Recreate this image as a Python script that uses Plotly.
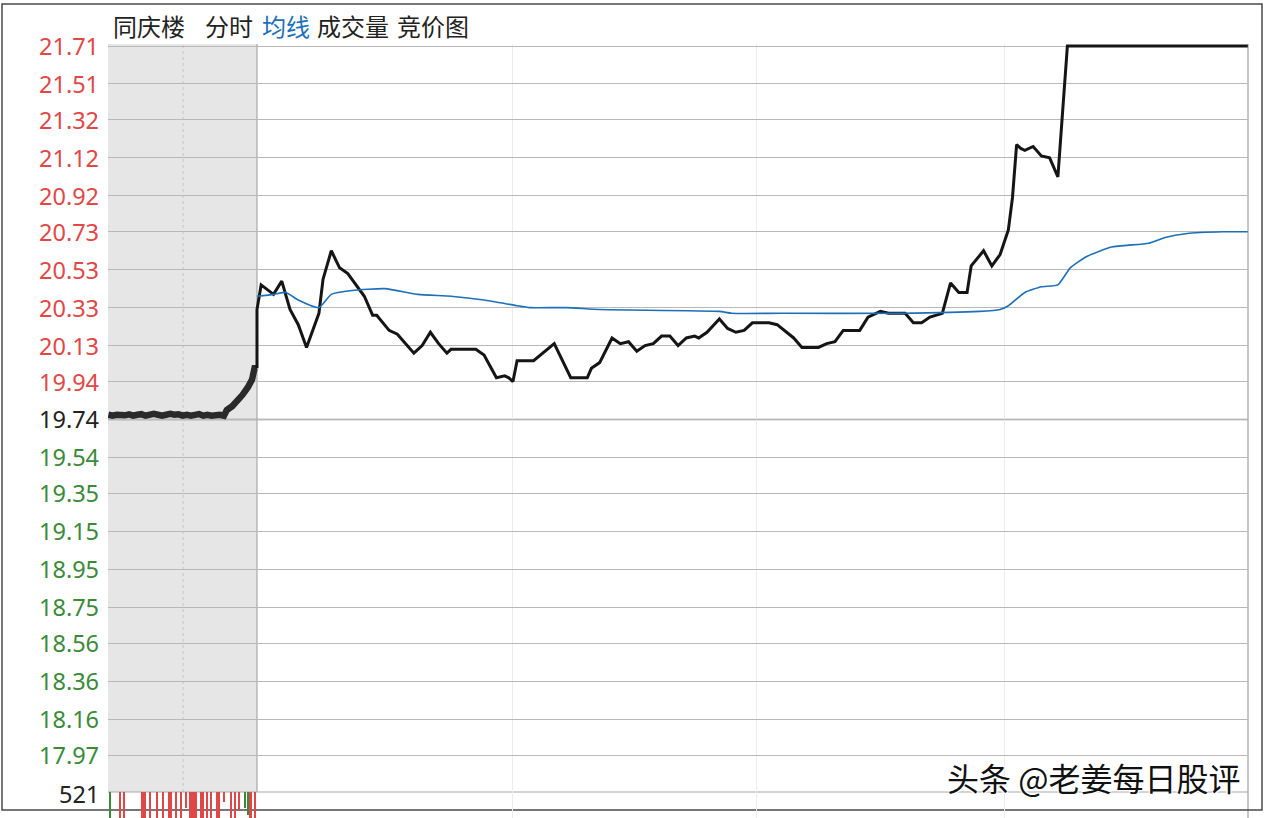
import plotly.graph_objects as go

# ---------------- data ----------------
stock_name = "同庆楼"
menu_items = ["分时", "均线", "成交量", "竞价图"]
watermark = "头条 @老姜每日股评"
prev_close = 19.74

price_ticks = [21.71, 21.51, 21.32, 21.12, 20.92, 20.73, 20.53, 20.33, 20.13, 19.94,
               19.74, 19.54, 19.35, 19.15, 18.95, 18.75, 18.56, 18.36, 18.16, 17.97]
vol_top_label = "521"

# pre-market auction (minutes relative to 9:30, in trading-minute widths)
pre_minutes = [-36, -35, -34, -33, -32, -31, -30, -29, -28, -27, -26, -25, -24, -23, -22,
               -21, -20, -19, -18, -17, -16, -15, -14, -13, -12, -11, -10, -9, -8,
               -7.3, -6, -5, -3.5, -2.2, -1.2, -0.6, 0]
pre_prices = [19.765, 19.76, 19.765, 19.76, 19.762, 19.767, 19.76, 19.765, 19.768, 19.76,
              19.765, 19.77, 19.765, 19.76, 19.765, 19.77, 19.765, 19.767, 19.76, 19.765,
              19.76, 19.765, 19.768, 19.76, 19.765, 19.76, 19.765, 19.765, 19.76,
              19.79, 19.81, 19.83, 19.87, 19.91, 19.95, 20.01, 20.01]

# intraday price (minutes after 9:30, lunch break removed)
trade_minutes = [0, 1, 4, 6, 8, 10, 12, 15, 16, 18, 20, 22, 26, 28, 29, 32, 34, 38, 40, 42,
                 44, 46, 47, 53, 55, 58, 60, 61, 62, 63, 67, 72, 76, 80, 81, 83, 86, 88, 90, 92,
                 94, 96, 98, 100, 102, 104, 106, 107, 109, 112, 114, 116, 118, 120, 124, 126,
                 130, 132, 136, 138, 140, 142, 146, 148, 151, 153, 157, 159, 161, 163, 166,
                 168, 170, 172, 173, 176, 178, 180, 182, 183, 184, 185, 186, 188, 190, 192,
                 194, 194.6, 195.5, 196.3, 240]
trade_prices = [20.32, 20.45, 20.40, 20.47, 20.32, 20.24, 20.12, 20.30, 20.48, 20.63,
                20.54, 20.51, 20.39, 20.29, 20.29, 20.21, 20.19, 20.09, 20.13, 20.20,
                20.14, 20.09, 20.11, 20.11, 20.08, 19.96, 19.97, 19.96, 19.94, 20.05,
                20.05, 20.14, 19.96, 19.96, 20.01, 20.04, 20.17, 20.14, 20.15, 20.10,
                20.13, 20.14, 20.18, 20.18, 20.13, 20.17, 20.18, 20.17, 20.20, 20.27,
                20.22, 20.20, 20.21, 20.25, 20.25, 20.24, 20.17, 20.12, 20.12, 20.14,
                20.15, 20.21, 20.21, 20.28, 20.31, 20.30, 20.30, 20.25, 20.25, 20.28,
                20.30, 20.46, 20.41, 20.41, 20.55, 20.63, 20.55, 20.61, 20.74, 20.91,
                21.19, 21.17, 21.16, 21.18, 21.13, 21.12, 21.02, 21.20, 21.49, 21.71,
                21.71]

# average price line
avg_minutes = [0, 4, 7, 10, 15, 18, 23, 31, 39, 47, 55, 63, 66, 75, 83, 112, 115, 127, 156,
               175, 180, 182, 186, 190, 194, 197, 201, 207, 216, 220, 225, 234, 240]
avg_prices = [20.39, 20.40, 20.41, 20.37, 20.33, 20.40, 20.42, 20.43, 20.40, 20.39,
              20.37, 20.34, 20.33, 20.33, 20.32, 20.31, 20.30, 20.30, 20.30, 20.31,
              20.32, 20.34, 20.41, 20.44, 20.45, 20.54, 20.60, 20.65, 20.67, 20.70,
              20.72, 20.73, 20.73]

# auction volume bars (visible top strip only)
vol_minutes = [-35.6, -33.2, -32.2, -27.6, -25.9, -24.2, -22.8, -21.1, -19.6, -18.4, -17.2,
               -15.5, -13.3, -12.1, -11.1, -9.4, -8.0, -6.3, -5.3, -4.4, -2.9, -2.2, -1.5, -0.5]
vol_values = [100, 100, 100, 100, 100, 100, 100, 100, 100, 100, 60,
              100, 100, 100, 100, 100, 40, 100, 100, 70, 60, 90, 100, 100]
vol_side = ["down", "up", "up", "up", "up", "up", "up", "up", "up", "up", "up",
            "up", "up", "up", "up", "up", "up", "up", "up", "up", "down", "down", "up", "up"]
vol_widths = [0.35, 0.35, 0.35, 1.2, 0.4, 0.4, 0.4, 0.9, 0.4, 0.4, 0.3,
              1.8, 1.0, 0.4, 0.4, 1.0, 0.3, 0.4, 0.4, 0.3, 0.6, 0.6, 0.4, 0.4]

grid_minutes = [62, 121, 181]

# ---------------- layout helpers ----------------
W, H = 1268, 818
L, R, T, B = 108, 20, 44, 0
PW, PH = W - L - R, H - T - B
X_MIN, X_MAX = -36.09, 240.05


def px(x):
    return (x - L) / PW


def py(y):
    return (H - B - y) / PH


price_dom = [py(792), 1]
vol_dom = [0, py(792)]

RED = "#e04848"
GREEN = "#3a8a3a"
DARK = "#222222"
BLUE = "#1d6fb8"

fig = go.Figure()

fig.add_trace(go.Scatter(x=pre_minutes, y=pre_prices, mode="lines",
                         line=dict(color="#2a2a2a", width=6.5), hoverinfo="skip",
                         showlegend=False))
fig.add_trace(go.Scatter(x=[pre_minutes[-1]] + trade_minutes,
                         y=[pre_prices[-1]] + trade_prices, mode="lines",
                         line=dict(color="#151515", width=3), showlegend=False))
fig.add_trace(go.Scatter(x=avg_minutes, y=avg_prices, mode="lines",
                         line=dict(color=BLUE, width=1.6, shape="spline", smoothing=0.5),
                         showlegend=False))
fig.add_trace(go.Bar(x=vol_minutes, y=vol_values, width=vol_widths,
                     marker=dict(color=[RED if s == "up" else GREEN for s in vol_side],
                                 line=dict(width=0)),
                     yaxis="y2", showlegend=False))

shapes = []
shapes.append(dict(type="rect", xref="x", yref="paper", x0=X_MIN, x1=0,
                   y0=price_dom[0], y1=1, fillcolor="#e6e6e6", line=dict(width=0),
                   layer="below"))
shapes.append(dict(type="line", xref="x", yref="paper", x0=-17.9, x1=-17.9,
                   y0=price_dom[0], y1=1, line=dict(color="#c4c4c4", width=1, dash="dot"),
                   layer="below"))
shapes.append(dict(type="line", xref="x", yref="paper", x0=0, x1=0,
                   y0=price_dom[0], y1=1, line=dict(color="#a8a8a8", width=1.2),
                   layer="below"))
shapes.append(dict(type="line", xref="paper", yref="paper", x0=1, x1=1, y0=0, y1=1,
                   line=dict(color="#a0a0a0", width=1.2), layer="below"))
shapes.append(dict(type="line", xref="paper", yref="y", x0=0, x1=1, y0=prev_close,
                   y1=prev_close, line=dict(color="#888888", width=1.4), layer="below"))
shapes.append(dict(type="line", xref="paper", yref="paper", x0=0, x1=1,
                   y0=price_dom[0], y1=price_dom[0], line=dict(color="#a8a8a8", width=1.2),
                   layer="below"))
shapes.append(dict(type="rect", xref="paper", yref="paper", x0=px(2), x1=px(1262),
                   y0=py(810), y1=py(4), line=dict(color="#4a4a4a", width=1.5),
                   fillcolor="rgba(0,0,0,0)", layer="below"))

annotations = []
for v in price_ticks:
    if abs(v - prev_close) < 1e-9:
        c = DARK
    elif v > prev_close:
        c = RED
    else:
        c = GREEN
    annotations.append(dict(x=px(101), y=v, xref="paper", yref="y", text=f"{v:.2f}",
                            showarrow=False, xanchor="right", yanchor="middle",
                            font=dict(family="Noto Sans", size=23.5, color=c)))
annotations.append(dict(x=px(101), y=py(794), xref="paper", yref="paper",
                        text=vol_top_label, showarrow=False, xanchor="right",
                        yanchor="middle", font=dict(family="Noto Sans", size=23.5, color=DARK)))

title_font = "Noto Sans CJK SC"
title_pos = [111, 203, 260, 315, 395]
title_texts = [stock_name] + menu_items
for xpos, txt in zip(title_pos, title_texts):
    annotations.append(dict(x=px(xpos), y=py(25), xref="paper", yref="paper", text=txt,
                            showarrow=False, xanchor="left", yanchor="middle",
                            font=dict(family=title_font, size=24,
                                      color=BLUE if txt == "均线" else DARK)))

annotations.append(dict(x=px(945), y=py(777), xref="paper", yref="paper", text=watermark,
                        showarrow=False, xanchor="left", yanchor="middle",
                        font=dict(family=title_font, size=32, color="#111111",
                                  shadow="1px 1px 1px #ffffff, -1px -1px 1px #ffffff, 1px -1px 1px #ffffff, -1px 1px 1px #ffffff")))

fig.update_layout(
    width=W, height=H, autosize=False,
    margin=dict(l=L, r=R, t=T, b=B, pad=0),
    paper_bgcolor="white", plot_bgcolor="white",
    showlegend=False, bargap=0,
    xaxis=dict(range=[X_MIN, X_MAX], tickvals=grid_minutes, showticklabels=False,
               showgrid=True, gridcolor="#ececec", gridwidth=1, zeroline=False,
               showline=False, ticks=""),
    yaxis=dict(domain=price_dom, range=[17.775, 21.7206], tickvals=price_ticks,
               showticklabels=False, showgrid=True, gridcolor="#b8b8b8", gridwidth=1,
               zeroline=False, showline=False, ticks=""),
    yaxis2=dict(domain=vol_dom, range=[100, 0], showticklabels=False, showgrid=False,
                zeroline=False, showline=False, ticks="", anchor="x"),
    shapes=shapes,
    annotations=annotations,
    hovermode=False,
)

fig.write_html("out.html", config={"displayModeBar": False},
               post_script="document.body.style.margin='0';document.body.style.overflow='hidden';")
